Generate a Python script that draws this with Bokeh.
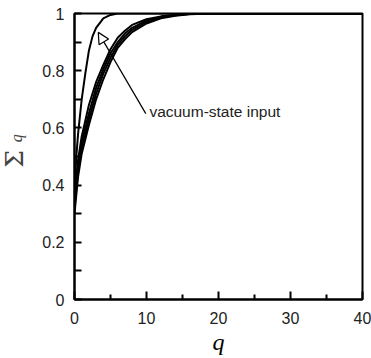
from bokeh.plotting import figure
from bokeh.layouts import row
from bokeh.models import Label, Arrow, NormalHead, FixedTicker, Range1d
from bokeh.embed import file_html
from bokeh.resources import INLINE

# bundle of curves (coherent-type inputs)
q_bundle = [0, 0.5, 1, 2, 3, 4, 5, 6, 7, 8, 10, 12, 14, 16, 19, 40]
sigma_a = [0.30, 0.43, 0.51, 0.61, 0.70, 0.77, 0.83, 0.88, 0.91, 0.935, 0.965, 0.983, 0.992, 0.997, 1.0, 1.0]
sigma_b = [0.32, 0.45, 0.53, 0.63, 0.72, 0.79, 0.845, 0.89, 0.92, 0.943, 0.970, 0.986, 0.994, 0.998, 1.0, 1.0]
sigma_c = [0.34, 0.47, 0.55, 0.65, 0.74, 0.805, 0.86, 0.90, 0.93, 0.95, 0.975, 0.988, 0.995, 0.999, 1.0, 1.0]
sigma_d = [0.36, 0.49, 0.57, 0.68, 0.76, 0.82, 0.875, 0.915, 0.94, 0.96, 0.98, 0.99, 0.996, 1.0, 1.0, 1.0]

# vacuum-state input curve
q_vac = [0, 0.25, 0.5, 1, 1.5, 2, 2.5, 3, 4, 5, 6, 40]
sigma_vac = [0.38, 0.50, 0.58, 0.70, 0.79, 0.87, 0.92, 0.95, 0.983, 0.995, 1.0, 1.0]

x_ticks = [0, 10, 20, 30, 40]
y_ticks = [0, 0.2, 0.4, 0.6, 0.8, 1.0]

annotation_text = "vacuum-state input"
arrow_tail = (9.9, 0.65)
arrow_tip = (3.3, 0.934)
text_pos = (10.4, 0.657)

LEFT_W = 32

# narrow strip holding the rotated y-axis title Σ_q
ylab = figure(width=LEFT_W, height=358, output_backend="svg", toolbar_location=None,
              x_range=Range1d(0, LEFT_W), y_range=Range1d(358, 0),
              min_border=0, outline_line_color=None)
ylab.axis.visible = False
ylab.grid.visible = False
ylab.add_layout(Label(x=14, y=182, text="Σ", angle=90, angle_units="deg",
                      text_font="DejaVu Serif", text_font_size="25px",
                      text_align="center", text_baseline="middle"))
ylab.add_layout(Label(x=16, y=156, text="q", angle=90, angle_units="deg",
                      text_font="Liberation Serif", text_font_style="italic", text_font_size="16px",
                      text_align="center", text_baseline="middle"))

p = figure(width=371 - LEFT_W, height=358, output_backend="svg", toolbar_location=None,
           x_range=Range1d(0, 40), y_range=Range1d(0, 1),
           min_border_left=74 - LEFT_W, min_border_right=9, min_border_top=13, min_border_bottom=59)
p.grid.visible = False
p.outline_line_color = "black"
p.outline_line_width = 2
p.background_fill_color = "white"
p.border_fill_color = "white"

for ys in [sigma_a, sigma_b, sigma_c, sigma_d]:
    p.line(q_bundle, ys, line_color="black", line_width=2, line_join="round")
p.line(q_vac, sigma_vac, line_color="black", line_width=2, line_join="round")

p.xaxis.ticker = FixedTicker(ticks=x_ticks, minor_ticks=[5, 15, 25, 35])
p.yaxis.ticker = FixedTicker(ticks=y_ticks, minor_ticks=[0.1, 0.3, 0.5, 0.7, 0.9])
p.yaxis.major_label_overrides = {0: "0", 1: "1", 0.2: "0.2", 0.4: "0.4", 0.6: "0.6", 0.8: "0.8"}
for ax in [p.xaxis[0], p.yaxis[0]]:
    ax.axis_line_width = 2
    ax.axis_line_color = "black"
    ax.major_tick_out = 0
    ax.minor_tick_out = 0
    ax.major_tick_line_width = 2
    ax.minor_tick_line_width = 2
    ax.major_label_text_font = "Liberation Sans"
    ax.major_label_text_font_size = "16px"
    ax.major_label_text_color = "#222222"
p.xaxis.major_tick_in = 8
p.xaxis.minor_tick_in = 5
p.yaxis.major_tick_in = 7
p.yaxis.minor_tick_in = 7
p.xaxis.major_label_standoff = 12
p.yaxis.major_label_standoff = 10

p.xaxis.axis_label = "q"
p.xaxis.axis_label_text_font = "Liberation Serif"
p.xaxis.axis_label_text_font_style = "italic"
p.xaxis.axis_label_text_font_size = "24px"
p.xaxis.axis_label_text_color = "black"
p.xaxis.axis_label_standoff = 2

arrow = Arrow(end=NormalHead(size=11, fill_color="white", line_color="black", line_width=1.2),
              x_start=arrow_tail[0], y_start=arrow_tail[1], x_end=arrow_tip[0], y_end=arrow_tip[1],
              line_color="black", line_width=1.2)
p.add_layout(arrow)
p.add_layout(Label(x=text_pos[0], y=text_pos[1], text=annotation_text, text_font="Liberation Sans",
                   text_font_size="15.5px", text_color="#222222", text_baseline="middle", text_align="left"))

layout = row(ylab, p, spacing=0)
open("out.html", "w").write(file_html(layout, INLINE))
